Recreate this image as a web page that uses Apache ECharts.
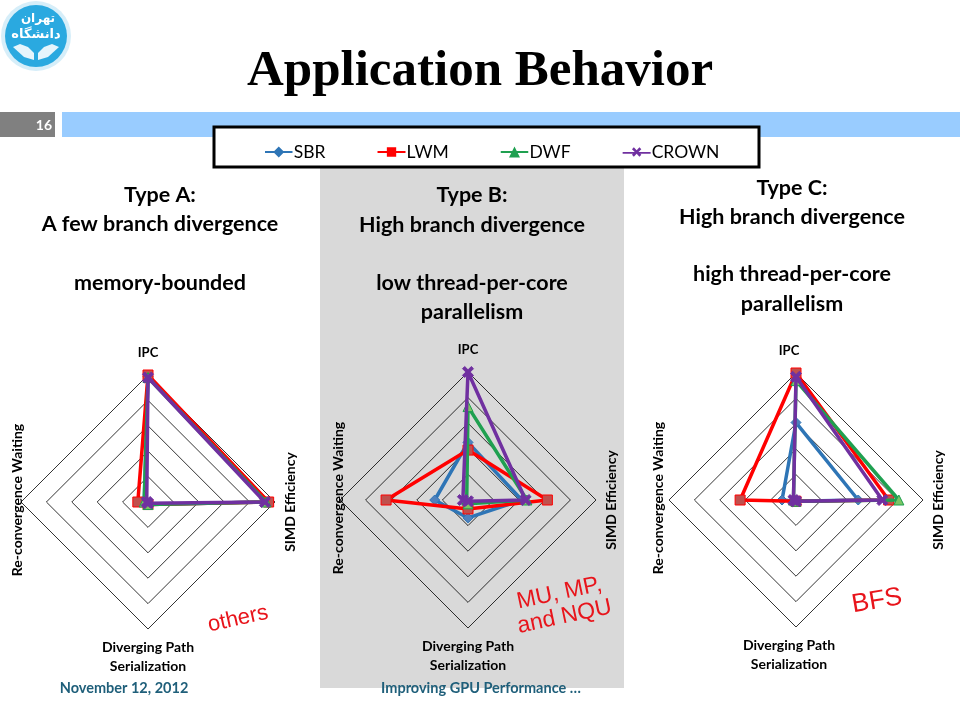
<!DOCTYPE html>
<html>
<head>
<meta charset="utf-8">
<script src="https://cdn.jsdelivr.net/npm/echarts@6/dist/echarts.min.js"></script>
<style>
html,body{margin:0;padding:0;background:#fff;}
#c{width:960px;height:720px;}
</style>
</head>
<body>
<div id="c"></div>
<script>
// ---- data ----
// indicator order (ECharts places them counter-clockwise from the top)
const indicatorNames = ['IPC', 'Re-convergence Waiting', 'Diverging Path Serialization', 'SIMD Efficiency'];
const seriesNames = ['SBR', 'LWM', 'DWF', 'CROWN'];

// Type A (others)          IPC   ReConv Diverg SIMD
const typeA_SBR   = [0.99, 0.03, 0.02, 0.93];
const typeA_LWM   = [1.00, 0.08, 0.02, 0.95];
const typeA_DWF   = [0.98, 0.03, 0.02, 0.93];
const typeA_CROWN = [0.98, 0.01, 0.01, 0.92];

// Type B (MU, MP, and NQU)
const typeB_SBR   = [0.45, 0.26, 0.14, 0.42];
const typeB_LWM   = [0.39, 0.64, 0.07, 0.62];
const typeB_DWF   = [0.73, 0.01, 0.03, 0.46];
const typeB_CROWN = [1.00, 0.04, 0.01, 0.45];

// Type C (BFS)
const typeC_SBR   = [0.61, 0.11, 0.01, 0.49];
const typeC_LWM   = [1.00, 0.44, 0.01, 0.73];
const typeC_DWF   = [0.94, 0.02, 0.01, 0.81];
const typeC_CROWN = [0.97, 0.02, 0.01, 0.68];

const panelTitles = [
  ['Type A:', 'A few branch divergence', '', 'memory-bounded'],
  ['Type B:', 'High branch divergence', '', 'low thread-per-core', 'parallelism'],
  ['Type C:', 'High branch divergence', '', 'high thread-per-core', 'parallelism']
];
const panelNotes = [['others'], ['MU, MP,', 'and NQU'], ['BFS']];

// ---- styling / layout ----
const lineColors   = ['#2E75B6', '#FF0000', '#1FA050', '#7030A0'];
const markerColors = ['#4F81BD', '#C0504D', '#7CC464', '#7030A0'];
const markerShapes = [
  'diamond', 'rect', 'triangle',
  'path://M0,2L2,0L5,3L8,0L10,2L7,5L10,8L8,10L5,7L2,10L0,8L3,5Z'
];
const legendIcons = [
  'path://M0,5H30V7H0Z M15,0L21,6L15,12L9,6Z',
  'path://M0,5H30V7H0Z M10,1H20V11H10Z',
  'path://M0,5H30V7H0Z M15,0L21,12H9Z',
  'path://M0,5H30V7H0Z M10,2L12,0L15,3L18,0L20,2L17,5L20,8L18,10L15,7L12,10L10,8L13,5Z'
];
const panels = [
  {cx: 148, cy: 502, r: 127, tx: 160, ty: [195, 224, 253, 283], ldx: 0, leftOff: 4, rightOff: 15, note: {x: 238, y: 619, size: 22, rot: 0.22}},
  {cx: 468, cy: 500, r: 128, tx: 472, ty: [195, 225, 254, 283, 312], ldx: 0, leftOff: 2, rightOff: 15, note: {x: 562, y: 605, size: 23, rot: 0.21}},
  {cx: 796, cy: 500, r: 127, tx: 792, ty: [188, 217, 246, 274, 304], ldx: -7, leftOff: 11, rightOff: 15, note: {x: 877, y: 601, size: 26, rot: 0.17}}
];
const allData = [
  [typeA_SBR, typeA_LWM, typeA_DWF, typeA_CROWN],
  [typeB_SBR, typeB_LWM, typeB_DWF, typeB_CROWN],
  [typeC_SBR, typeC_LWM, typeC_DWF, typeC_CROWN]
];

const FONT = 'Lato, "Open Sans", sans-serif';

const radars = panels.map(p => ({
  center: [p.cx, p.cy],
  radius: p.r,
  shape: 'polygon',
  startAngle: 90,
  splitNumber: 5,
  indicator: indicatorNames.map(n => ({name: n, min: 0, max: 1})),
  axisName: {show: false},
  axisLine: {show: false},
  axisTick: {show: false},
  axisLabel: {show: false},
  splitArea: {show: false},
  splitLine: {lineStyle: {color: '#000', width: 0.8}}
}));

const series = [];
allData.forEach((group, ri) => {
  group.forEach((vals, si) => {
    series.push({
      type: 'radar',
      radarIndex: ri,
      name: seriesNames[si],
      symbol: markerShapes[si],
      symbolSize: si === 3 ? 11 : 10,
      z: 2 + si,
      lineStyle: {color: lineColors[si], width: 3.5},
      itemStyle: {color: markerColors[si], borderColor: lineColors[si], borderWidth: 1},
      emphasis: {disabled: true},
      data: [{name: seriesNames[si], value: vals}]
    });
  });
});

const graphics = [];
// background shapes
graphics.push({type: 'rect', z: -10, shape: {x: 320, y: 168, width: 304, height: 520}, style: {fill: '#D9D9D9'}});
graphics.push({type: 'rect', z: -10, shape: {x: 62, y: 112, width: 898, height: 25}, style: {fill: '#99CCFF'}});
graphics.push({type: 'rect', z: -10, shape: {x: 0, y: 112, width: 55, height: 25}, style: {fill: '#808080'}});
graphics.push({type: 'text', z: 20, x: 52, y: 125, style: {text: '16', fill: '#fff', font: 'bold 14px ' + FONT, textAlign: 'right', textVerticalAlign: 'middle'}});
graphics.push({type: 'rect', z: 3, shape: {x: 214, y: 127, width: 545, height: 40}, style: {fill: '#fff', stroke: '#000', lineWidth: 3}});
// logo
graphics.push({type: 'circle', z: -5, shape: {cx: 36, cy: 36, r: 35}, style: {fill: '#D6EEF9'}});
graphics.push({type: 'circle', z: -4, shape: {cx: 36, cy: 36, r: 31}, style: {fill: '#2AA9E0'}});
graphics.push({type: 'text', z: 20, x: 38, y: 19, style: {text: 'تهران', fill: '#fff', font: 'bold 12px "DejaVu Sans"', textAlign: 'center', textVerticalAlign: 'middle'}});
graphics.push({type: 'text', z: 20, x: 36, y: 35, style: {text: 'دانشگاه', fill: '#fff', font: 'bold 13px "DejaVu Sans"', textAlign: 'center', textVerticalAlign: 'middle'}});
graphics.push({type: 'polygon', z: -3, shape: {points: [[13, 47], [20, 44], [28, 47], [34, 53], [34, 60], [24, 57]]}, style: {fill: '#E6F5FC'}});
graphics.push({type: 'polygon', z: -3, shape: {points: [[59, 47], [52, 44], [44, 47], [38, 53], [38, 60], [48, 57]]}, style: {fill: '#E6F5FC'}});
// title
graphics.push({type: 'text', z: 20, x: 480, y: 72, style: {text: 'Application Behavior', fill: '#000', font: 'bold 51px "Liberation Serif", "DejaVu Serif", serif', textAlign: 'center', textVerticalAlign: 'middle'}});

panels.forEach((p, i) => {
  // header text
  panelTitles[i].forEach((t, k) => {
    if (!t) return;
    graphics.push({type: 'text', z: 20, x: p.tx, y: p.ty[k], style: {text: t, fill: '#000', font: 'bold 21.5px ' + FONT, textAlign: 'center', textVerticalAlign: 'middle'}});
  });
  const lf = 'bold 14px ' + FONT;
  graphics.push({type: 'text', z: 20, x: p.cx + p.ldx, y: p.cy - p.r - 22, style: {text: indicatorNames[0], fill: '#000', font: 'bold 13px ' + FONT, textAlign: 'center', textVerticalAlign: 'middle'}});
  graphics.push({type: 'text', z: 20, x: p.cx + p.ldx, y: p.cy + p.r + 18, style: {text: 'Diverging Path', fill: '#000', font: lf, textAlign: 'center', textVerticalAlign: 'middle'}});
  graphics.push({type: 'text', z: 20, x: p.cx + p.ldx, y: p.cy + p.r + 37, style: {text: 'Serialization', fill: '#000', font: lf, textAlign: 'center', textVerticalAlign: 'middle'}});
  graphics.push({type: 'text', z: 20, x: p.cx - p.r - p.leftOff, y: p.cy - 2, rotation: Math.PI / 2, style: {text: indicatorNames[1], fill: '#000', font: lf, textAlign: 'center', textVerticalAlign: 'middle'}});
  graphics.push({type: 'text', z: 20, x: p.cx + p.r + p.rightOff, y: p.cy, rotation: Math.PI / 2, style: {text: indicatorNames[3], fill: '#000', font: lf, textAlign: 'center', textVerticalAlign: 'middle'}});
  // red note
  const n = p.note;
  graphics.push({type: 'text', z: 20, x: n.x, y: n.y, rotation: n.rot, style: {text: panelNotes[i].join('\n'), fill: '#E8141B', font: n.size + 'px "Liberation Sans", Arial, sans-serif', textAlign: 'center', textVerticalAlign: 'middle', lineHeight: n.size + 1}});
});

// footer
graphics.push({type: 'text', z: 20, x: 124, y: 688, style: {text: 'November 12, 2012', fill: '#1F5F7A', font: 'bold 14.5px ' + FONT, textAlign: 'center', textVerticalAlign: 'middle'}});
graphics.push({type: 'text', z: 20, x: 481, y: 688, style: {text: 'Improving GPU Performance …', fill: '#1F5F7A', font: 'bold 14.5px ' + FONT, textAlign: 'center', textVerticalAlign: 'middle'}});

const chart = echarts.init(document.getElementById('c'), null, {renderer: 'canvas'});
chart.setOption({
  animation: false,
  backgroundColor: '#fff',
  legend: {
    top: 138,
    left: 260,
    itemGap: 52,
    itemWidth: 28,
    itemHeight: 11,
    z: 10,
    selectedMode: false,
    textStyle: {fontFamily: FONT, fontSize: 17.5, color: '#000', padding: [0, 0, 0, -4]},
    data: seriesNames.map((n, i) => ({name: n, icon: legendIcons[i], itemStyle: {color: lineColors[i], borderWidth: 0}}))
  },
  radar: radars,
  series: series,
  graphic: {elements: graphics}
});
</script>
</body>
</html>
